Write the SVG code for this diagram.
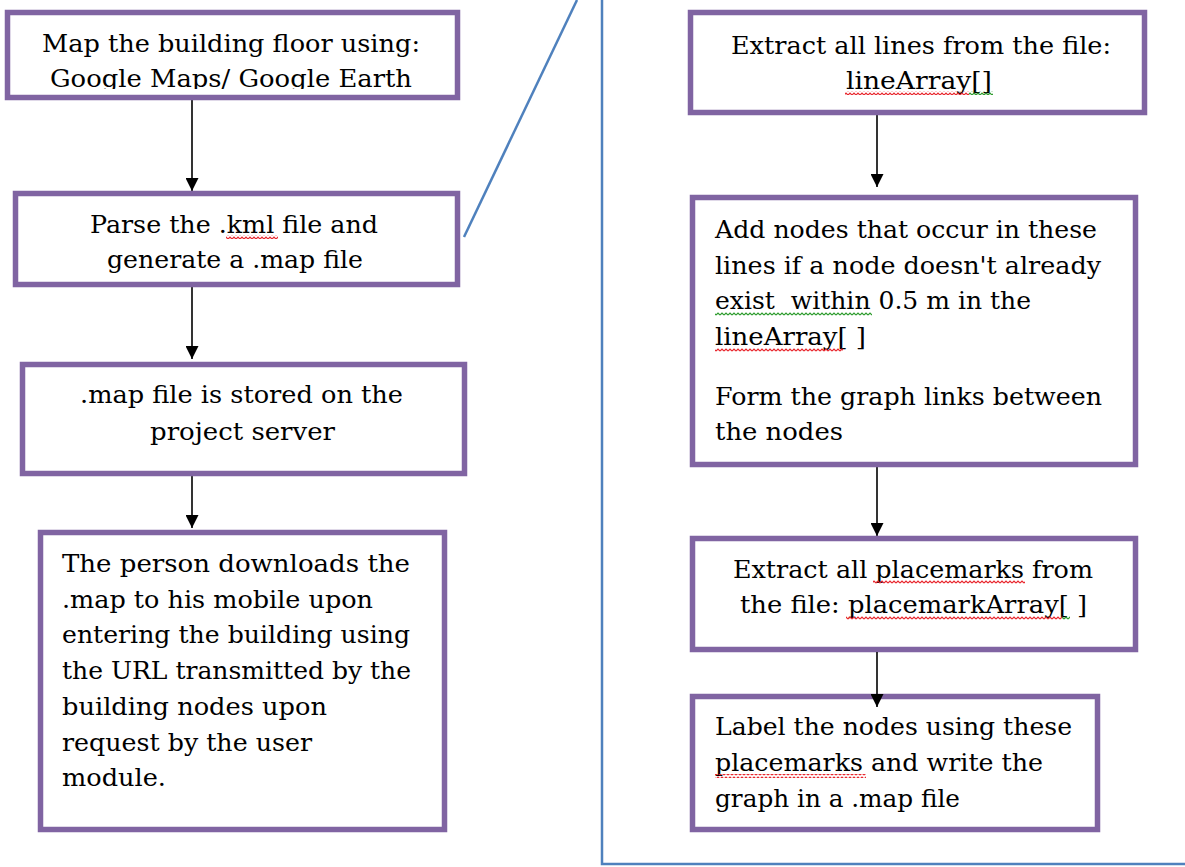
<svg xmlns="http://www.w3.org/2000/svg" width="1185" height="867" viewBox="0 0 1185 867">
<style>
.box{fill:#fff;stroke:#8064A2;stroke-width:5.5}
.t{font-family:"DejaVu Serif","Liberation Serif",serif;font-size:25px;fill:#000;white-space:pre}
.conn{stroke:#000;stroke-width:1.6;fill:none}
.blue{stroke:#4F81BD;stroke-width:2.5;fill:none}
</style>
<defs>
<marker id="ah" viewBox="0 0 10 10" refX="10" refY="5" markerWidth="13" markerHeight="13" markerUnits="userSpaceOnUse" orient="auto">
<path d="M0,0 L10,5 L0,10 z" fill="#000"/>
</marker>
<pattern id="sqR" width="4" height="4" patternUnits="userSpaceOnUse">
<path d="M0,3 L2,1 L4,3" stroke="#e8232a" stroke-width="1.2" fill="none"/>
</pattern>
<pattern id="sqG" width="4" height="4" patternUnits="userSpaceOnUse">
<path d="M0,3 L2,1 L4,3" stroke="#2a9a2a" stroke-width="1.2" fill="none"/>
</pattern>
<clipPath id="clip1"><rect x="10" y="14" width="445" height="75"/></clipPath>
</defs>

<g id="frame">
<path class="blue" d="M464,237 L577,0"/>
<path class="blue" d="M602,0 L602,864 L1185,864"/>
</g>

<g id="connectors">
<line class="conn" x1="192" y1="100" x2="192" y2="191" marker-end="url(#ah)"/>
<line class="conn" x1="192" y1="287" x2="192" y2="359" marker-end="url(#ah)"/>
<line class="conn" x1="192" y1="476" x2="192" y2="528" marker-end="url(#ah)"/>
<line class="conn" x1="877" y1="115" x2="877" y2="187" marker-end="url(#ah)"/>
<line class="conn" x1="877" y1="467" x2="877" y2="536" marker-end="url(#ah)"/>
</g>

<g id="n1">
<rect class="box" x="7.5" y="12.5" width="450" height="85"/>
<g clip-path="url(#clip1)">
<text class="t" x="42" y="52" textLength="378" lengthAdjust="spacingAndGlyphs">Map the building floor using:</text>
<text class="t" x="50" y="87" textLength="362" lengthAdjust="spacingAndGlyphs">Google Maps/ Google Earth</text>
</g>
</g>

<g id="n2">
<rect class="box" x="15.5" y="193.5" width="442" height="91"/>
<text class="t" x="90" y="233" textLength="288" lengthAdjust="spacingAndGlyphs">Parse the .kml file and</text>
<text class="t" x="107" y="268" textLength="256" lengthAdjust="spacingAndGlyphs">generate a .map file</text>
<rect x="226" y="235" width="52" height="4" fill="url(#sqR)"/>
</g>

<g id="n3">
<rect class="box" x="22.5" y="364.5" width="442" height="109"/>
<text class="t" x="80" y="403" textLength="323" lengthAdjust="spacingAndGlyphs">.map file is stored on the</text>
<text class="t" x="150" y="440" textLength="185" lengthAdjust="spacingAndGlyphs">project server</text>
</g>

<g id="n4">
<rect class="box" x="40.5" y="532.5" width="404" height="297"/>
<text class="t" x="62" y="572" textLength="348" lengthAdjust="spacingAndGlyphs">The person downloads the</text>
<text class="t" x="62" y="608" textLength="311" lengthAdjust="spacingAndGlyphs">.map to his mobile upon</text>
<text class="t" x="62" y="643" textLength="348" lengthAdjust="spacingAndGlyphs">entering the building using</text>
<text class="t" x="62" y="679" textLength="349" lengthAdjust="spacingAndGlyphs">the URL transmitted by the</text>
<text class="t" x="62" y="715" textLength="265" lengthAdjust="spacingAndGlyphs">building nodes upon</text>
<text class="t" x="62" y="751" textLength="250" lengthAdjust="spacingAndGlyphs">request by the user</text>
<text class="t" x="62" y="786" textLength="104" lengthAdjust="spacingAndGlyphs">module.</text>
</g>

<g id="n5">
<rect class="box" x="690.5" y="12.5" width="454" height="100"/>
<text class="t" x="731" y="54" textLength="380" lengthAdjust="spacingAndGlyphs">Extract all lines from the file:</text>
<text class="t" x="846" y="89" textLength="146" lengthAdjust="spacingAndGlyphs">lineArray[]</text>
<rect x="845" y="91" width="124" height="4" fill="url(#sqR)"/>
<rect x="969" y="91" width="24" height="4" fill="url(#sqG)"/>
</g>

<g id="n6">
<rect class="box" x="692.5" y="197.5" width="443" height="267"/>
<text class="t" x="715" y="238" textLength="382" lengthAdjust="spacingAndGlyphs">Add nodes that occur in these</text>
<text class="t" x="715" y="274" textLength="386" lengthAdjust="spacingAndGlyphs">lines if a node doesn't already</text>
<text class="t" x="715" y="309" textLength="316" lengthAdjust="spacingAndGlyphs" xml:space="preserve">exist  within 0.5 m in the</text>
<text class="t" x="715" y="345" textLength="151" lengthAdjust="spacingAndGlyphs">lineArray[ ]</text>
<text class="t" x="715" y="405" textLength="387" lengthAdjust="spacingAndGlyphs">Form the graph links between</text>
<text class="t" x="715" y="440" textLength="128" lengthAdjust="spacingAndGlyphs">the nodes</text>
<rect x="715" y="312" width="157" height="4" fill="url(#sqG)"/>
<rect x="715" y="348" width="128" height="4" fill="url(#sqR)"/>
</g>

<g id="n7">
<rect class="box" x="692.5" y="538.5" width="443" height="111"/>
<text class="t" x="733" y="578" textLength="360" lengthAdjust="spacingAndGlyphs">Extract all placemarks from</text>
<text class="t" x="740" y="613" textLength="347" lengthAdjust="spacingAndGlyphs">the file: placemarkArray[ ]</text>
<rect x="873" y="580" width="152" height="4" fill="url(#sqR)"/>
<rect x="846" y="616" width="216" height="4" fill="url(#sqR)"/>
<rect x="1062" y="616" width="8" height="4" fill="url(#sqG)"/>
</g>

<g id="n8">
<rect class="box" x="692.5" y="696.5" width="405" height="133"/>
<text class="t" x="715" y="735" textLength="357" lengthAdjust="spacingAndGlyphs">Label the nodes using these</text>
<text class="t" x="715" y="771" textLength="328" lengthAdjust="spacingAndGlyphs">placemarks and write the</text>
<text class="t" x="715" y="807" textLength="245" lengthAdjust="spacingAndGlyphs">graph in a .map file</text>
<rect x="715" y="774" width="151" height="4" fill="url(#sqR)"/>
</g>

<g id="connectors-top">
<line class="conn" x1="877" y1="652" x2="877" y2="707" marker-end="url(#ah)"/>
</g>
</svg>
